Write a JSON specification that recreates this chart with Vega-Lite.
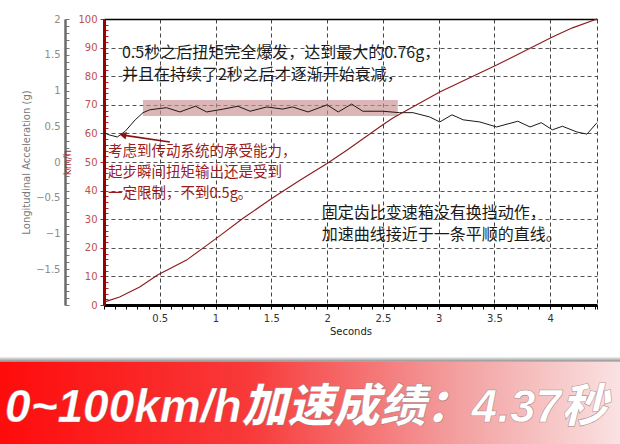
{
  "$schema": "https://vega.github.io/schema/vega-lite/v6.json",
  "width": 493,
  "height": 286,
  "autosize": {"type": "none"},
  "padding": {"left": 104, "top": 19, "right": 23, "bottom": 139},
  "background": "white",
  "config": {
    "view": {"stroke": null},
    "axis": {"labelFont": "DejaVu Sans", "titleFont": "DejaVu Sans", "labelFontSize": 10, "titleFontSize": 10, "titleFontWeight": "normal"}
  },
  "datasets": {
    "accel": [
      {"t": 0, "g": 0.41}, {"t": 0.045, "g": 0.38}, {"t": 0.12, "g": 0.35}, {"t": 0.19, "g": 0.43},
      {"t": 0.28, "g": 0.59}, {"t": 0.35, "g": 0.69}, {"t": 0.41, "g": 0.73}, {"t": 0.56, "g": 0.76},
      {"t": 0.68, "g": 0.70}, {"t": 0.82, "g": 0.78}, {"t": 0.92, "g": 0.70}, {"t": 1.07, "g": 0.74},
      {"t": 1.20, "g": 0.78}, {"t": 1.31, "g": 0.71}, {"t": 1.46, "g": 0.77}, {"t": 1.60, "g": 0.74},
      {"t": 1.69, "g": 0.77}, {"t": 1.83, "g": 0.70}, {"t": 2.00, "g": 0.80}, {"t": 2.10, "g": 0.70},
      {"t": 2.22, "g": 0.81}, {"t": 2.32, "g": 0.71}, {"t": 2.50, "g": 0.71}, {"t": 2.65, "g": 0.69},
      {"t": 2.77, "g": 0.69}, {"t": 2.92, "g": 0.63}, {"t": 3.01, "g": 0.56}, {"t": 3.12, "g": 0.66},
      {"t": 3.22, "g": 0.59}, {"t": 3.37, "g": 0.56}, {"t": 3.52, "g": 0.49}, {"t": 3.71, "g": 0.57},
      {"t": 3.82, "g": 0.49}, {"t": 3.92, "g": 0.55}, {"t": 4.02, "g": 0.45}, {"t": 4.11, "g": 0.50},
      {"t": 4.24, "g": 0.42}, {"t": 4.33, "g": 0.39}, {"t": 4.42, "g": 0.55}
    ],
    "speed": [
      {"t": 0, "v": 1.0}, {"t": 0.14, "v": 2.8}, {"t": 0.32, "v": 6.3}, {"t": 0.48, "v": 10.5},
      {"t": 0.74, "v": 15.7}, {"t": 1.01, "v": 23.4}, {"t": 1.25, "v": 30.4}, {"t": 1.51, "v": 37.4},
      {"t": 1.76, "v": 43.7}, {"t": 2.00, "v": 49.5}, {"t": 2.18, "v": 54.2}, {"t": 2.50, "v": 63.0},
      {"t": 2.59, "v": 65.4}, {"t": 3.01, "v": 74.5}, {"t": 3.52, "v": 83.9}, {"t": 4.02, "v": 93.7},
      {"t": 4.20, "v": 96.9}, {"t": 4.42, "v": 100}
    ],
    "band": [{"t": 0.349, "t2": 2.634, "g": 0.867, "g2": 0.643}],
    "arrow": [{"t": 0.59, "v": 57.0, "t2": 0.17, "v2": 59.4}],
    "note_black": [
      {"t": 0.161, "v": 88.1, "label": "0.5秒之后扭矩完全爆发，达到最大的0.76g，\n并且在持续了2秒之后才逐渐开始衰减，"},
      {"t": 1.953, "v": 32.2, "label": "固定齿比变速箱没有换挡动作，\n加速曲线接近于一条平顺的直线。"}
    ],
    "note_red": [
      {"t": 0.036, "v": 53.4, "label": "考虑到传动系统的承受能力，\n起步瞬间扭矩输出还是受到\n一定限制，不到0.5g。"}
    ],
    "banner_shadow": [{"t": -1, "t2": 4.8, "v": -18.0, "v2": -19.8}],
    "banner": [{"t": -1, "t2": 4.8, "v": -19.8, "v2": -56}],
    "banner_text": [{"t": -0.887, "v": -40.9, "label": "0~100km/h加速成绩：4.37秒"}]
  },
  "layer": [
    {
      "encoding": {
        "x": {
          "field": "t", "type": "quantitative",
          "scale": {"domain": [0, 4.42], "nice": false, "zero": false},
          "axis": {
            "orient": "bottom",
            "values": [0,0.1,0.2,0.3,0.4,0.5,0.6,0.7,0.8,0.9,1,1.1,1.2,1.3,1.4,1.5,1.6,1.7,1.8,1.9,2,2.1,2.2,2.3,2.4,2.5,2.6,2.7,2.8,2.9,3,3.1,3.2,3.3,3.4,3.5,3.6,3.7,3.8,3.9,4,4.1,4.2,4.3,4.4,4.42],
            "format": "~g",
            "labelExpr": "(abs(datum.value*2-round(datum.value*2))<0.001 && datum.value>0.01 && datum.value<4.41) ? datum.label : ''",
            "labelColor": "#333333",
            "labelPadding": 4,
            "labelOverlap": false,
            "labelFlush": false,
            "tickColor": "#000000",
            "tickSize": 4,
            "domainColor": "#000000",
            "domainWidth": 3,
            "grid": true,
            "gridColor": "#444444",
            "gridDash": [4, 3],
            "gridOpacity": {"condition": {"test": "(abs(datum.value*2-round(datum.value*2))<0.001 && datum.value>0.01) || datum.value>4.41", "value": 1}, "value": 0},
            "title": "Seconds",
            "titleColor": "#222222",
            "titlePadding": 3
          }
        },
        "y": {
          "field": "g", "type": "quantitative",
          "scale": {"domain": [-2, 2], "nice": false, "zero": false},
          "axis": {
            "orient": "left",
            "offset": 39,
            "values": [-2,-1.9,-1.8,-1.7,-1.6,-1.5,-1.4,-1.3,-1.2,-1.1,-1,-0.9,-0.8,-0.7,-0.6,-0.5,-0.4,-0.3,-0.2,-0.1,0,0.1,0.2,0.3,0.4,0.5,0.6,0.7,0.8,0.9,1,1.1,1.2,1.3,1.4,1.5,1.6,1.7,1.8,1.9,2],
            "format": "~g",
            "labelExpr": "(abs(datum.value*2-round(datum.value*2))<0.001 && datum.value>-1.99) ? datum.label : ''",
            "labelColor": "#8c8c8c",
            "labelPadding": 9,
            "labelOverlap": false,
            "tickColor": "#777777",
            "tickSize": -4,
            "domainColor": "#6b6b6b",
            "domainWidth": 2.5,
            "grid": false,
            "title": "Longitudinal Acceleration (g)",
            "titleColor": "#7a7a7a",
            "titlePadding": 4
          }
        }
      },
      "layer": [
        {"data": {"name": "band"}, "mark": {"type": "rect", "color": "#c98d8f", "opacity": 0.65}, "encoding": {"x2": {"field": "t2"}, "y2": {"field": "g2"}}},
        {"data": {"name": "accel"}, "mark": {"type": "line", "color": "#1a1a1a", "strokeWidth": 1}}
      ]
    },
    {
      "encoding": {
        "x": {
          "field": "t", "type": "quantitative",
          "scale": {"domain": [0, 4.42], "nice": false, "zero": false},
          "axis": {"orient": "top", "domain": true, "domainColor": "#000000", "domainWidth": 1.5, "ticks": false, "labels": false, "grid": false, "title": null}
        },
        "y": {
          "field": "v", "type": "quantitative",
          "scale": {"domain": [0, 100], "nice": false, "zero": false},
          "axis": {
            "orient": "left",
            "values": [0,2,4,6,8,10,12,14,16,18,20,22,24,26,28,30,32,34,36,38,40,42,44,46,48,50,52,54,56,58,60,62,64,66,68,70,72,74,76,78,80,82,84,86,88,90,92,94,96,98,100],
            "labelExpr": "datum.value % 10 === 0 ? datum.label : ''",
            "labelColor": "#c0504d",
            "labelPadding": 3,
            "labelOverlap": false,
            "tickColor": "#b22222",
            "tickSize": {"condition": {"test": "datum.value % 10 === 0", "value": 4}, "value": -4},
            "domainColor": "#9b0000",
            "domainWidth": 3,
            "grid": true,
            "gridColor": "#555555",
            "gridDash": [4, 3],
            "gridOpacity": {"condition": {"test": "datum.value % 10 === 0", "value": 1}, "value": 0},
            "title": "km/h",
            "titleColor": "#b03030",
            "titlePadding": 5
          }
        }
      },
      "layer": [
        {"data": {"name": "speed"}, "mark": {"type": "line", "color": "#8b1a1a", "strokeWidth": 1.1}},
        {"data": {"name": "arrow"}, "mark": {"type": "rule", "color": "#8b1010", "strokeWidth": 1.6}, "encoding": {"x2": {"field": "t2"}, "y2": {"field": "v2"}}},
        {"data": {"name": "arrow"}, "mark": {"type": "point", "shape": "triangle-left", "filled": true, "color": "#8b1010", "opacity": 1, "size": 60, "angle": 10}, "encoding": {"x": {"field": "t2", "type": "quantitative"}, "y": {"field": "v2", "type": "quantitative"}}},
        {"data": {"name": "note_black"}, "mark": {"type": "text", "align": "left", "baseline": "middle", "lineBreak": "\n", "lineHeight": 22, "font": "Noto Sans CJK SC", "fontSize": 16, "color": "#1a1a1a"}, "encoding": {"text": {"field": "label"}}},
        {"data": {"name": "note_red"}, "mark": {"type": "text", "align": "left", "baseline": "middle", "lineBreak": "\n", "lineHeight": 21, "font": "Noto Sans CJK SC", "fontSize": 14.5, "color": "#9a1c1c"}, "encoding": {"text": {"field": "label"}}},
        {"data": {"name": "banner_shadow"}, "mark": {"type": "rect", "color": {"gradient": "linear", "x1": 0, "y1": 0, "x2": 0, "y2": 1, "stops": [{"offset": 0, "color": "#ffffff"}, {"offset": 1, "color": "#8a8a8a"}]}}, "encoding": {"x2": {"field": "t2"}, "y2": {"field": "v2"}}},
        {"data": {"name": "banner"}, "mark": {"type": "rect", "color": {"gradient": "linear", "x1": 0, "y1": 0, "x2": 1, "y2": 0, "stops": [{"offset": 0, "color": "#ff0a0a"}, {"offset": 0.4, "color": "#f83a3a"}, {"offset": 0.72, "color": "#f3a0a0"}, {"offset": 1, "color": "#fbeaea"}]}}, "encoding": {"x2": {"field": "t2"}, "y2": {"field": "v2"}}},
        {"data": {"name": "banner_text"}, "mark": {"type": "text", "align": "left", "baseline": "alphabetic", "font": "Liberation Sans, Noto Sans CJK SC, sans-serif", "fontSize": 46, "fontWeight": 900, "fontStyle": "italic", "fill": "#ffffff", "stroke": "#7a5050", "strokeWidth": 0.6, "strokeOpacity": 0.6}, "encoding": {"text": {"field": "label"}}}
      ]
    }
  ],
  "resolve": {"scale": {"y": "independent"}, "axis": {"x": "independent"}}
}
